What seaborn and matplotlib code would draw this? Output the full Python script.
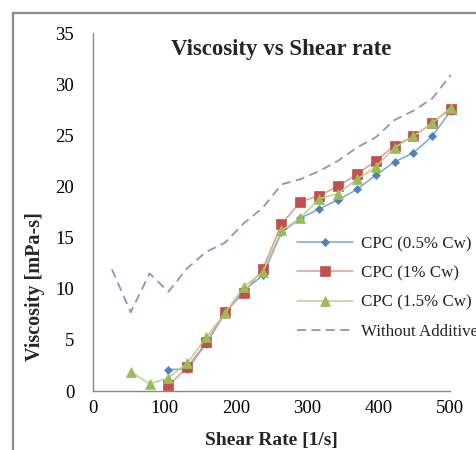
import numpy as np
import pandas as pd
import matplotlib
matplotlib.use("Agg")
import matplotlib.pyplot as plt
import seaborn as sns
from matplotlib.patches import Rectangle

# ---- data ----
shear_all = [26.4, 52.8, 79.2, 105.6, 132.0, 158.4, 184.8, 211.2, 237.6, 264.0,
             290.4, 316.8, 343.2, 369.6, 396.0, 422.4, 448.8, 475.2, 501.0]
without_additive = [11.9, 7.7, 11.5, 9.7, 12.0, 13.6, 14.5, 16.4, 17.9, 20.2,
                    20.7, 21.5, 22.5, 23.8, 24.8, 26.5, 27.4, 28.6, 30.9]

shear_05 = shear_all[3:]
cpc_05 = [2.1, 2.15, 4.6, 7.6, 9.8, 11.3, 15.5, 16.9, 17.8, 18.7, 19.7, 21.1,
          22.4, 23.3, 24.9, 27.4]

shear_1 = shear_all[3:]
cpc_1 = [0.55, 2.3, 4.75, 7.7, 9.6, 11.9, 16.3, 18.5, 19.1, 20.0, 21.2, 22.5,
         24.0, 24.9, 26.2, 27.6]

shear_15 = shear_all[1:]
cpc_15 = [1.9, 0.7, 1.3, 2.7, 5.25, 7.6, 10.2, 11.6, 15.7, 16.9, 18.8, 19.3,
          20.7, 21.9, 23.8, 24.9, 26.2, 27.7]

labels = ["CPC (0.5% Cw)", "CPC (1% Cw)", "CPC (1.5% Cw)", "Without Additive"]
x_ticks = [0, 100, 200, 300, 400, 500]
y_ticks = [0, 5, 10, 15, 20, 25, 30, 35]

# ---- figure ----
sns.set_theme(style="white")
plt.rcParams["font.family"] = ["Liberation Serif", "DejaVu Serif"]

W, H = 476, 450
fig = plt.figure(figsize=(W / 100, H / 100), dpi=100)
fig.patch.set_facecolor("white")
ax = fig.add_axes([93 / W, 1 - 391 / H, (450 - 93) / W, (391 - 33) / H])

df05 = pd.DataFrame({"x": shear_05, "y": cpc_05})
df1 = pd.DataFrame({"x": shear_1, "y": cpc_1})
df15 = pd.DataFrame({"x": shear_15, "y": cpc_15})
dfw = pd.DataFrame({"x": shear_all, "y": without_additive})

sns.lineplot(data=df05, x="x", y="y", ax=ax, color="#7FA6D6", lw=1.1,
             marker="D", markersize=4.5, markerfacecolor="#4F81BD",
             markeredgecolor="#4F81BD", markeredgewidth=0.5,
             label=labels[0], clip_on=False, zorder=3)
sns.lineplot(data=df1, x="x", y="y", ax=ax, color="#E09A98", lw=1.1,
             marker="s", markersize=6.5, markerfacecolor="#C0504D",
             markeredgecolor="#C0504D", markeredgewidth=0.5,
             label=labels[1], clip_on=False, zorder=3)
sns.lineplot(data=df15, x="x", y="y", ax=ax, color="#B8D48E", lw=1.1,
             marker="^", markersize=7, markerfacecolor="#9BBB59",
             markeredgecolor="#9BBB59", markeredgewidth=0.5,
             label=labels[2], clip_on=False, zorder=3)
sns.lineplot(data=dfw, x="x", y="y", ax=ax, color="#9C8CC8", lw=1.3,
             dashes=False, label=labels[3], clip_on=False, zorder=2)
ax.lines[-1].set_linestyle((0, (5, 3)))

ax.set_xlim(0, 500)
ax.set_ylim(0, 35)
ax.set_xticks(x_ticks)
ax.set_yticks(y_ticks)
ax.tick_params(axis="both", labelsize=13.5, colors="#888888", labelcolor="black",
               length=5, width=1, direction="out")
ax.tick_params(axis="y", pad=8.5, length=5)
ax.tick_params(axis="x", pad=1.5)
for s in ["top", "right"]:
    ax.spines[s].set_visible(False)
for s in ["left", "bottom"]:
    ax.spines[s].set_color("#888888")
    ax.spines[s].set_linewidth(1)

ax.set_xlabel("")
ax.set_ylabel("")
fig.text(271.5 / W, 1 - 441 / H, "Shear Rate [1/s]", ha="center", va="center",
         fontsize=14, fontweight="bold")
fig.text(35 / W, 1 - 287 / H, "Viscosity [mPa-s]", ha="center", va="center",
         rotation=90, fontsize=14.5, fontweight="bold")
fig.text(281 / W, 1 - 50 / H, "Viscosity vs Shear rate", ha="center",
         va="center", fontsize=16.5, fontweight="bold")

leg = ax.legend(loc="upper left", bbox_to_anchor=(297 / W, 1 - 236 / H),
                bbox_transform=fig.transFigure, frameon=False, fontsize=12.2,
                handlelength=3.3, handletextpad=0.45, labelspacing=0.78,
                borderpad=0, borderaxespad=0)
for t in leg.get_texts():
    t.set_color("#222222")

fig.add_artist(Rectangle((13 / W, -0.2), 1.5, (1 - 13 / H) + 0.2,
                         transform=fig.transFigure, fill=False,
                         edgecolor="#8a8a8a", lw=1.6, clip_on=False))

fig.savefig("out.png", dpi=100)
